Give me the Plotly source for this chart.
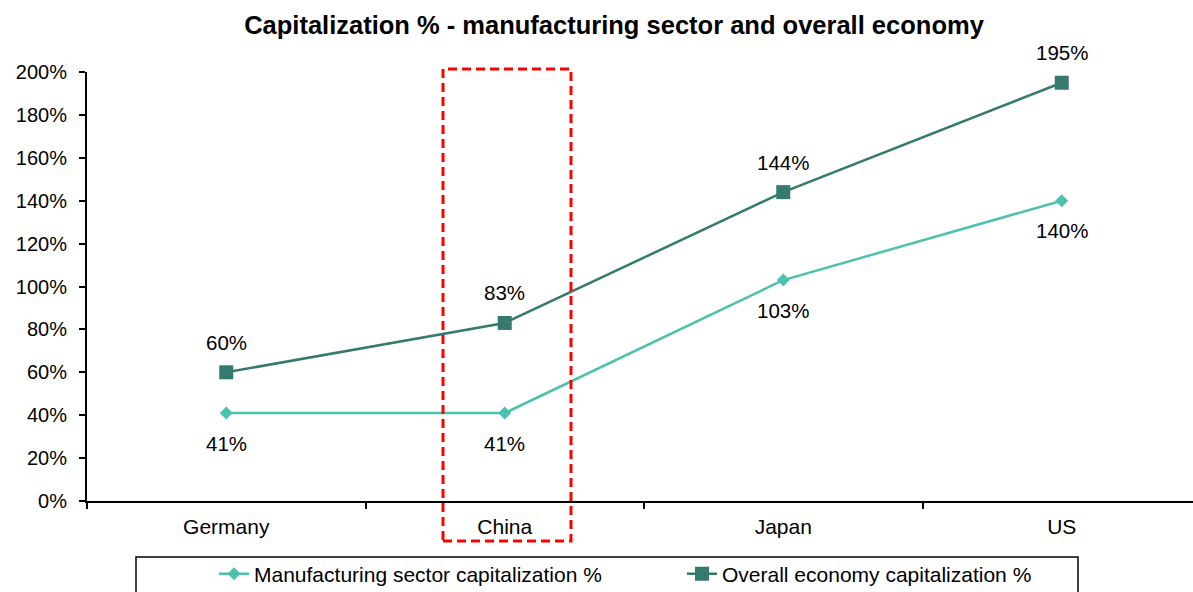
import plotly.graph_objects as go

categories = ["Germany", "China", "Japan", "US"]
manufacturing = [41, 41, 103, 140]
overall = [60, 83, 144, 195]
y_ticks = [0, 20, 40, 60, 80, 100, 120, 140, 160, 180, 200]
y_tick_labels = [f"{v}%" for v in y_ticks]

FONT = "Liberation Sans, Arial, sans-serif"
C_MAN = "#4CC1AE"
C_ALL = "#347A6E"

W, H = 1193, 592
L, T, B = 87, 72, 91
plot_w = W - L
plot_h = H - T - B

def px_x(p):
    return (p - L) / plot_w

def px_y(p):
    return (H - B - p) / plot_h

fig = go.Figure()
fig.add_trace(go.Scatter(
    x=categories, y=manufacturing, mode="lines+markers",
    name="Manufacturing sector capitalization %",
    line=dict(color=C_MAN, width=2.5),
    marker=dict(symbol="diamond", size=10, color=C_MAN),
))
fig.add_trace(go.Scatter(
    x=categories, y=overall, mode="lines+markers",
    name="Overall economy capitalization %",
    line=dict(color=C_ALL, width=2.5),
    marker=dict(symbol="square", size=14, color=C_ALL),
))

for c, v in zip(categories, manufacturing):
    fig.add_annotation(x=c, y=v, text=f"{v}%", showarrow=False, yshift=-30,
                       font=dict(family=FONT, size=20.5, color="black"))
for c, v in zip(categories, overall):
    fig.add_annotation(x=c, y=v, text=f"{v}%", showarrow=False, yshift=30,
                       font=dict(family=FONT, size=20.5, color="black"))

# highlight box around China
step = 278.5
fig.add_shape(type="rect", xref="x", yref="paper",
              x0=(443 - L) / step - 0.5, x1=(571 - L) / step - 0.5,
              y0=px_y(541), y1=px_y(69),
              line=dict(color="#FF0000", width=3, dash="9px,5px"),
              fillcolor="rgba(0,0,0,0)")

# legend frame
fig.add_shape(type="rect", xref="paper", yref="paper",
              x0=px_x(136), x1=px_x(1078), y0=px_y(600), y1=px_y(557),
              line=dict(color="black", width=1.5), fillcolor="rgba(0,0,0,0)")

fig.update_layout(
    width=W, height=H,
    margin=dict(l=L, r=0, t=T, b=B, autoexpand=False),
    paper_bgcolor="white", plot_bgcolor="white",
    font=dict(family=FONT, size=20, color="black"),
    title=dict(text="<b>Capitalization % - manufacturing sector and overall economy</b>",
               x=614 / W, xanchor="center",
               y=1 - 25 / H, yanchor="middle",
               font=dict(family=FONT, size=25.5, color="black")),
    showlegend=True,
    legend=dict(orientation="h", x=px_x(214), xanchor="left",
                y=px_y(574), yanchor="middle",
                bgcolor="rgba(0,0,0,0)", borderwidth=0,
                font=dict(family=FONT, size=21, color="black"),
                entrywidth=423, entrywidthmode="pixels"),
    xaxis=dict(type="category", range=[-0.5, -0.5 + plot_w / step],
               showline=True, linecolor="black", linewidth=2,
               ticks="outside", tickson="boundaries", ticklen=6, tickwidth=2,
               tickcolor="black", showgrid=False, zeroline=False,
               tickfont=dict(family=FONT, size=21, color="black"),
               ticklabelstandoff=6),
    yaxis=dict(range=[0, 200], tickvals=y_ticks, ticktext=y_tick_labels,
               showline=True, linecolor="black", linewidth=2,
               ticks="outside", ticklen=6, tickwidth=2, tickcolor="black",
               showgrid=False, zeroline=False,
               tickfont=dict(family=FONT, size=20, color="black"),
               ticklabelstandoff=8),
)

fig.write_html("out.html")
